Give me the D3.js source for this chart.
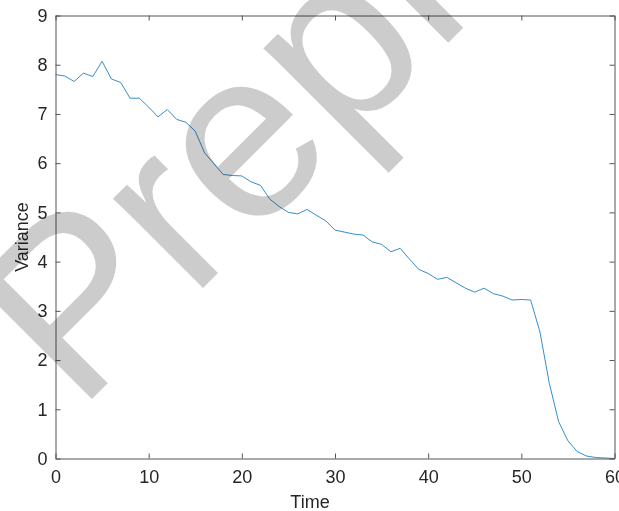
<!DOCTYPE html>
<html>
<head>
<meta charset="utf-8">
<script src="https://cdn.jsdelivr.net/npm/d3@7"></script>
<style>
  html, body { margin: 0; padding: 0; background: #fff; }
  svg { display: block; }
  text { font-family: "Liberation Sans", Arial, Helvetica, sans-serif; }
</style>
</head>
<body>
<svg id="chart" width="619" height="511"></svg>
<script>
// ---- data ----
const times = d3.range(0, 61);
const variance = [
  7.80, 7.77, 7.66, 7.83, 7.76, 8.07, 7.71, 7.64, 7.32, 7.32,
  7.14, 6.94, 7.09, 6.89, 6.83, 6.65, 6.21, 5.99, 5.77, 5.75,
  5.74, 5.62, 5.55, 5.27, 5.12, 5.00, 4.97, 5.06, 4.94, 4.83,
  4.64, 4.60, 4.56, 4.54, 4.40, 4.35, 4.20, 4.27, 4.05, 3.84,
  3.76, 3.64, 3.68, 3.57, 3.46, 3.38, 3.46, 3.35, 3.30, 3.22,
  3.23, 3.22, 2.57, 1.53, 0.75, 0.36, 0.14, 0.05, 0.02, 0.01,
  0.00
];
const xTicks = [0, 10, 20, 30, 40, 50, 60];
const yTicks = [0, 1, 2, 3, 4, 5, 6, 7, 8, 9];
const xLabel = "Time";
const yLabel = "Variance";
const watermark = "Preprint";

// ---- layout ----
const svg = d3.select("#chart");
const pLeft = 55.5, pRight = 614.5, pTop = 15.5, pBottom = 458.5;
const axisColor = "#262626";
const axisLineColor = "#555555";

const x = d3.scaleLinear().domain([0, 60]).range([pLeft, pRight]);
const y = d3.scaleLinear().domain([0, 9]).range([pBottom, pTop]);

// data line
svg.append("path")
  .datum(times.map((t, i) => [t, variance[i]]))
  .attr("fill", "none")
  .attr("stroke", "#0072BD")
  .attr("stroke-width", 0.8)
  .attr("d", d3.line().x(d => x(d[0])).y(d => y(d[1])));

function styleAxis(g) {
  g.select(".domain").attr("stroke", axisLineColor).attr("stroke-width", 1);
  g.selectAll(".tick line").attr("stroke", axisLineColor).attr("stroke-width", 1);
  g.selectAll(".tick text").attr("fill", axisColor)
    .style("font-family", '"Liberation Sans", Arial, sans-serif')
    .style("font-size", "18px");
}

svg.append("g")
  .attr("transform", `translate(0,${pBottom})`)
  .call(d3.axisBottom(x).tickValues(xTicks).tickSizeInner(-5).tickSizeOuter(0).tickPadding(12))
  .call(styleAxis);

svg.append("g")
  .attr("transform", `translate(${pLeft},0)`)
  .call(d3.axisLeft(y).tickValues(yTicks).tickSizeInner(-5).tickSizeOuter(0).tickPadding(8))
  .call(styleAxis);

svg.append("g")
  .attr("transform", `translate(0,${pTop})`)
  .call(d3.axisTop(x).tickValues(xTicks).tickSizeInner(-5).tickSizeOuter(0).tickFormat(""))
  .call(styleAxis);

svg.append("g")
  .attr("transform", `translate(${pRight},0)`)
  .call(d3.axisRight(y).tickValues(yTicks).tickSizeInner(-5).tickSizeOuter(0).tickFormat(""))
  .call(styleAxis);

// axis labels
svg.append("text")
  .attr("x", 310).attr("y", 508)
  .attr("text-anchor", "middle")
  .attr("fill", axisColor)
  .style("font-size", "18px")
  .text(xLabel);

svg.append("text")
  .attr("transform", `translate(28,${(pTop + pBottom) / 2}) rotate(-90)`)
  .attr("text-anchor", "middle")
  .attr("fill", axisColor)
  .style("font-size", "18px")
  .text(yLabel);

// watermark
svg.append("text")
  .attr("transform", "translate(78,413) rotate(-45)")
  .attr("fill", "#cccccc")
  .style("mix-blend-mode", "multiply")
  .style("font-size", "240px")
  .text(watermark);
</script>
</body>
</html>
